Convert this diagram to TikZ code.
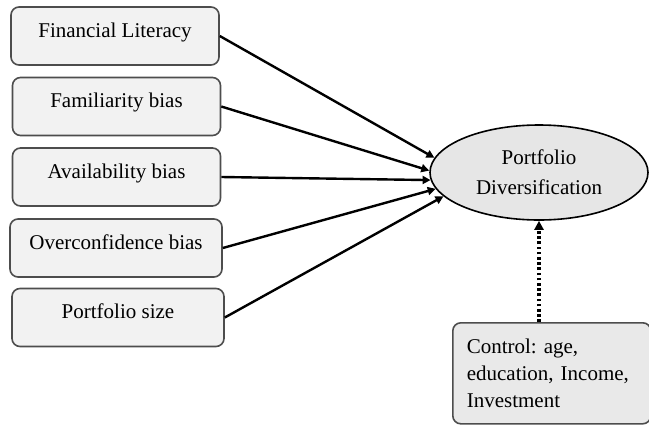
\documentclass[tikz,border=0pt]{standalone}
\usepackage{fontspec}
\setmainfont{Liberation Serif}
\usepackage{tikz}
\usetikzlibrary{
  arrows.meta,
  shapes,
  shapes.geometric,
  positioning,
  calc
}
\frenchspacing
\definecolor{pdBox}{HTML}{F2F2F2}
\definecolor{pdOval}{HTML}{E6E6E6}
\definecolor{pdCtrl}{HTML}{E9E9E9}
\definecolor{pdEdge}{HTML}{4D4D4D}
\tikzset{
  pdnode/.style={
    draw=pdEdge, rounded corners=8pt, line width=1.6pt,
    font=\rmfamily\fontsize{21}{25}\selectfont, align=center
  },
  factor/.style={pdnode, fill=pdBox, minimum width=208pt, minimum height=58pt,
    text height=13pt, text depth=11pt},
  outcome/.style={draw=black, ellipse, line width=1.6pt, fill=pdOval,
    minimum width=218pt, minimum height=95pt, font=\rmfamily\fontsize{21}{30}\selectfont, align=center},
  control/.style={pdnode, fill=pdCtrl, minimum width=196pt, minimum height=101pt,
    align=left, text width=170pt, inner xsep=14pt, font=\rmfamily\fontsize{21}{27}\selectfont, anchor=north west},
  effect/.style={-{Triangle[length=8pt,width=8pt]}, line width=2.4pt, black},
  ctrlflow/.style={-{Triangle[length=9pt,width=9pt]}, line width=3.4pt, black,
    dash pattern=on 2.6pt off 2.6pt}
}

\begin{document}
\begin{tikzpicture}[x=1pt, y=-1pt]
  \useasboundingbox (0,0) rectangle (649,424);
  \node[factor] (lit) at (115,36) {Financial Literacy};
  \node[factor] (fam) at (116.5,106.5) {Familiarity bias};
  \node[factor] (ava) at (116.5,177) {Availability bias};
  \node[factor, minimum width=212pt] (ovc) at (116,248) {Overconfidence bias};
  \node[factor, minimum width=212pt] (siz) at (118,317.5) {Portfolio size};
  \node[outcome] (pd) at (539,172.5) {Portfolio\\Diversification};
  \node[control] (ctl) at (452,322) {Control: age,\\education, Income,\\Investment};
  % effects into the oval
  \foreach \src/\ang in {lit/172,fam/179,ava/184,ovc/189,siz/194}{
    \draw[effect] (\src.east) -- (pd.\ang);
  }
  \draw[ctrlflow] (ctl.north -| pd.south) -- (pd.south);
\end{tikzpicture}
\end{document}
